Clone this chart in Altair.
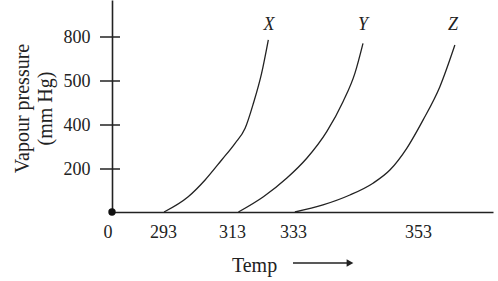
import altair as alt
import pandas as pd

# Tick positions / labels (schematic axes)
x_ticks = [0, 293, 313, 333, 353]
y_ticks = [200, 400, 500, 800]

# Curve samples (temperature, vapour pressure)
x_temp = [293.3, 300.3, 305.2, 310.0, 314.0, 317.3, 320.0, 322.7, 324.9]
x_pres = [0, 71, 149, 241, 317, 385, 449, 552, 780]
y_temp = [315.1, 323.3, 330.9, 335.2, 338.4, 341.0, 342.9, 344.2]
y_pres = [0, 71, 157, 249, 370, 453, 552, 757]
z_temp = [333.3, 337.8, 342.1, 345.8, 348.5, 351.2, 353.8, 356.5, 358.9]
z_pres = [0, 33, 79, 134, 195, 294, 411, 487, 745]

series_names = ["X", "Y", "Z"]
label_temp = [325.1, 344.2, 358.6]
label_pres = [881, 881, 881]

rows = []
for name, ts, ps in zip(series_names, [x_temp, y_temp, z_temp], [x_pres, y_pres, z_pres]):
    for i, (t, p) in enumerate(zip(ts, ps)):
        rows.append({"series": name, "temp": t, "pres": p, "order": i})
curves = pd.DataFrame(rows)
labels = pd.DataFrame({"series": series_names, "temp": label_temp, "pres": label_pres})
ticks_df = pd.DataFrame({"pres": y_ticks})
origin = pd.DataFrame({"temp": [0], "pres": [0]})

INK = "#222222"
FONT = "Liberation Serif"

xs = alt.Scale(domain=[0, 293, 313, 333, 353, 365], range=[0, 51, 120, 181, 306, 381], nice=False, zero=False)
ys = alt.Scale(domain=[0, 200, 400, 500, 800, 1050], range=[212, 169, 125, 81, 37, 0], nice=False, zero=False)

x_axis = alt.Axis(
    values=x_ticks, grid=False, ticks=False, tickSize=0,
    domainColor=INK, domainWidth=1.6,
    labelFont=FONT, labelFontSize=18, labelColor=INK, labelPadding=11,
    labelOffset={"condition": {"test": "datum.value === 0", "value": -9}, "value": 0},
    title="Temp", titleFont=FONT, titleFontSize=20, titleFontWeight="normal", titleColor=INK,
    titleX=142, titleY=53, titleBaseline="middle", titleAlign="center",
)
y_axis = alt.Axis(
    values=y_ticks, grid=False, ticks=False, tickSize=0,
    domainColor=INK, domainWidth=1.6,
    labelFont=FONT, labelFontSize=18, labelColor=INK, labelPadding=22,
    title=["Vapour pressure", "(mm Hg)"], titleFont=FONT, titleFontSize=20,
    titleFontWeight="normal", titleColor=INK, titleAngle=-90,
    titleX=-90, titleY=108, titleBaseline="middle", titleAlign="center", titleLineHeight=23,
)

lines = alt.Chart(curves).mark_line(color=INK, strokeWidth=1.3, interpolate="monotone").encode(
    x=alt.X("temp:Q", scale=xs, axis=x_axis),
    y=alt.Y("pres:Q", scale=ys, axis=y_axis),
    detail="series:N",
    order="order:Q",
)

text = alt.Chart(labels).mark_text(font=FONT, fontSize=18, fontStyle="italic", color=INK).encode(
    x=alt.X("temp:Q", scale=xs), y=alt.Y("pres:Q", scale=ys), text="series:N"
)

tick_rules = alt.Chart(ticks_df).mark_rule(color=INK, strokeWidth=1.5).encode(
    y=alt.Y("pres:Q", scale=ys), x=alt.value(-12), x2=alt.value(8)
)

dot = alt.Chart(origin).mark_point(filled=True, color="#111111", size=55, opacity=1).encode(
    x=alt.X("temp:Q", scale=xs), y=alt.Y("pres:Q", scale=ys)
)

arrow_line = alt.Chart(origin).mark_rule(color=INK, strokeWidth=1.5).encode(
    x=alt.value(181), x2=alt.value(236), y=alt.value(263)
)
arrow_head = alt.Chart(origin).mark_point(shape="triangle-right", filled=True, color=INK, size=60, opacity=1).encode(
    x=alt.value(238), y=alt.value(263)
)

chart = alt.layer(lines, text, tick_rules, dot, arrow_line, arrow_head).properties(
    width=381, height=212,
    autosize=alt.AutoSizeParams(type="none"),
    padding={"left": 112, "top": 0, "right": 5, "bottom": 69},
    background="white",
).configure_view(stroke=None)

chart.save("out.html", embed_options={"renderer": "svg", "actions": False})
